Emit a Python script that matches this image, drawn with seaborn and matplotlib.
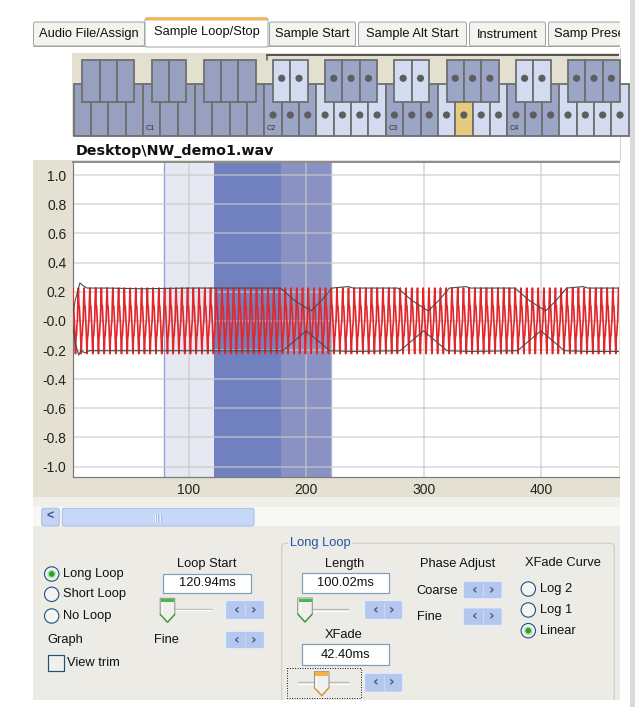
import numpy as np
import pandas as pd
import matplotlib
matplotlib.use("Agg")
import matplotlib.pyplot as plt
import seaborn as sns
from matplotlib.patches import Rectangle, Circle, FancyBboxPatch, Polygon

# ---------------- data ----------------
x_ticks = [100, 200, 300, 400]
y_ticks = [1.0, 0.8, 0.6, 0.4, 0.2, 0.0, -0.2, -0.4, -0.6, -0.8, -1.0]
y_tick_labels = ["1.0", "0.8", "0.6", "0.4", "0.2", "-0.0", "-0.2", "-0.4", "-0.6", "-0.8", "-1.0"]

loop_start_ms = 120.94
loop_length_ms = 100.02
xfade_ms = 42.40

# one cycle of the red waveform, repeated along the time axis
cycle_ms = 4.9
cycle_shape = [0.0, 0.14, 0.225, 0.11, 0.10, 0.03, -0.04, -0.14, -0.225, -0.11, -0.10, -0.03]
wave_end_ms = 467.0

# grey envelope lines
env_top_x = [0.3, 3, 7, 10, 13, 30, 60, 100, 150, 178, 190, 204, 213, 222, 236, 240,
             278, 290, 304, 313, 322, 336, 340, 378, 390, 404, 413, 422, 436, 440, 466.6]
env_top_y = [0.02, 0.14, 0.26, 0.24, 0.225, 0.225, 0.22, 0.225, 0.225, 0.225, 0.14, 0.068, 0.14, 0.225, 0.235, 0.225,
             0.225, 0.14, 0.068, 0.14, 0.225, 0.235, 0.225, 0.225, 0.14, 0.068, 0.14, 0.225, 0.235, 0.225, 0.225]
env_bot_x = [0.3, 3, 6, 8, 11, 15, 40, 100, 150, 180, 200, 220, 240, 280, 300, 320, 340, 380, 400, 420, 440, 466.6]
env_bot_y = [0.0, -0.15, -0.235, -0.2, -0.22, -0.205, -0.205, -0.205, -0.205, -0.205, -0.068, -0.205, -0.21,
             -0.205, -0.068, -0.205, -0.21, -0.205, -0.068, -0.205, -0.21, -0.21]

tab_labels = ["Audio File/Assign", "Sample Loop/Stop", "Sample Start", "Sample Alt Start", "Instrument", "Samp Preset"]
file_title = "Desktop\\NW_demo1.wav"

n_white_keys = 32
range_start_key = 11
selected_key = 22
c_labels = {4: "C1", 11: "C2", 18: "C3", 25: "C4"}

loop_modes = ["Long Loop", "Short Loop", "No Loop"]
xfade_curves = ["Log 2", "Log 1", "Linear"]

# ---------------- style ----------------
sns.set_theme(style="white")
plt.rcParams['font.family'] = ['Liberation Sans', 'DejaVu Sans']
FS = 9.3
TXT = '#111111'

fig = plt.figure(figsize=(6.35, 7.07), dpi=100)
fig.patch.set_facecolor('white')
bg = fig.add_axes([0, 0, 1, 1], zorder=0)
bg.set_xlim(0, 635)
bg.set_ylim(707, 0)
bg.axis('off')

PX = 0.72  # points per pixel


def rect(x0, y0, x1, y1, fc, ec='none', lw=0, z=1, **kw):
    bg.add_patch(Rectangle((x0, y0), x1 - x0, y1 - y0, fc=fc, ec=ec, lw=lw * PX, zorder=z, **kw))


def txt(x, y, s, ha='left', size=FS, color=TXT, **kw):
    return bg.text(x, y, s, ha=ha, va='center', fontsize=size, color=color, **kw)


# ---------------- window frame ----------------
rect(630, 0, 635, 707, '#DADADA', z=0.5)

# tabs
tab_pos = [(33, 145), (145, 268), (269, 356), (358, 467), (469, 546), (548, 622)]
for i, ((a, b), lab) in enumerate(zip(tab_pos, tab_labels)):
    if i == 1:
        continue
    bg.add_patch(FancyBboxPatch((a + 0.5, 22), b - a - 1, 24, boxstyle="round,pad=0,rounding_size=2",
                                fc='#F4F3EE', ec='#9CA6AA', lw=1 * PX, zorder=2))
    t = txt((a + b) / 2 if i != 5 else a + 6, 34.5, lab, ha='center' if i != 5 else 'left', zorder=3)
    if i == 5:
        t.set_clip_path(Rectangle((a, 20), 620 - a, 30, transform=bg.transData))
rect(620, 18, 630, 48, 'white', z=4)
bg.plot([33, 620], [45.5, 45.5], color='#9CA6AA', lw=1 * PX, zorder=2.5)
a, b = tab_pos[1]
bg.add_patch(FancyBboxPatch((a, 18), b - a, 29, boxstyle="round,pad=0,rounding_size=2",
                            fc='white', ec='#9CA6AA', lw=1 * PX, zorder=3))
bg.add_patch(FancyBboxPatch((a + 0.5, 17.5), b - a - 1, 3, boxstyle="round,pad=0,rounding_size=1.5",
                            fc='#F6B552', ec='none', zorder=3.2))
txt((a + b) / 2, 32, tab_labels[1], ha='center', zorder=4)
bg.plot([620, 620], [46, 160], color='#CFCFCF', lw=1 * PX, zorder=2)

# ---------------- keyboard ----------------
KX0, KW = 73.5, 17.35
KL, KR = 72, 619
rect(KL, 53, KR, 136, '#E4E0CF', z=2)
kb_clip = Rectangle((KL, 50), KR - KL, 90, transform=bg.transData)
OUT = '#97A1BF'
MED = '#9BA5C6'
LIGHT = '#D2DBF0'
YEL = '#E6CB7E'
EDGE = '#6E6E6E'
white_names = ['F', 'G', 'A', 'B', 'C', 'D', 'E']
for k in range(n_white_keys):
    x = KX0 + k * KW
    xa = max(x, KL)
    name = white_names[k % 7]
    if k < range_start_key:
        col = OUT
    elif k == selected_key:
        col = YEL
    elif name in ('C', 'D', 'E'):
        col = MED
    else:
        col = LIGHT
    p = Rectangle((xa, 84), x + KW - xa, 52, fc=col, ec=EDGE, lw=1.8 * PX, zorder=3)
    p.set_clip_path(kb_clip)
    bg.add_patch(p)
    if k >= range_start_key:
        c = Circle((x + KW / 2, 115), 3.6, fc='#5E5E5E', ec='none', zorder=5)
        c.set_clip_path(kb_clip)
        bg.add_patch(c)
    if k in c_labels:
        txt(x + 2.5, 128.5, c_labels[k], size=5.3, color='#333333', zorder=6)
for k in range(1, n_white_keys + 1):
    if (k % 7) not in (1, 2, 3, 5, 6):
        continue
    x = KX0 + (k - 0.5) * KW
    if x > KR:
        continue
    if k <= 10:
        col = OUT
    elif (k % 7) in (5, 6):
        col = LIGHT
    else:
        col = MED
    p = Rectangle((x, 60), KW, 41.7, fc=col, ec=EDGE, lw=1.8 * PX, zorder=4)
    p.set_clip_path(kb_clip)
    bg.add_patch(p)
    if k >= 12:
        c = Circle((x + KW / 2, 78.3), 3.6, fc='#5E5E5E', ec='none', zorder=5)
        c.set_clip_path(kb_clip)
        bg.add_patch(c)
bg.plot([266, 619], [55.3, 55.3], color='#555555', lw=2 * PX, zorder=6, solid_capstyle='butt')
bg.plot([266.5, 266.5], [55, 59.5], color='#555555', lw=1.5 * PX, zorder=6)

txt(76, 151, file_title, size=10.3, weight='bold', color='#111111',
    family=['DejaVu Sans'], zorder=3)

# ---------------- chart widget ----------------
rect(33, 160, 620, 497, '#E4E1D2', z=1)
rect(33, 497, 620, 507, '#F0EFE9', z=1)
rect(33, 507, 620, 526, '#F8F8F5', z=1)
rect(33, 526, 620, 700, '#ECEBE6', z=1)

AX_L, AX_R, AX_T, AX_B = 72.5, 619, 161.5, 477
ax = fig.add_axes([AX_L / 635, 1 - AX_B / 707, (AX_R - AX_L) / 635, (AX_B - AX_T) / 707], zorder=2)
ax.set_facecolor('white')

n_cycles = int(wave_end_ms / cycle_ms) + 1
n_per = len(cycle_shape)
t = np.arange(n_cycles * n_per) * (cycle_ms / n_per)
w = np.tile(np.array(cycle_shape), n_cycles)
wave = pd.DataFrame({'t': t, 'v': w})
wave = wave[wave.t <= wave_end_ms]

xf_start = loop_start_ms - xfade_ms
loop_end = loop_start_ms + loop_length_ms
ax.axvspan(xf_start, loop_start_ms, color='#E6E8F2', lw=0, zorder=0.6)
ax.axvspan(loop_start_ms, loop_end - xfade_ms, color='#7181C0', lw=0, zorder=0.6)
ax.axvspan(loop_end - xfade_ms, loop_end, color='#8A92C3', lw=0, zorder=0.6)
ax.axvline(xf_start, color='#8F9FD6', lw=1.3 * PX, zorder=0.7)
ax.axvline(loop_end, color='#A8B2DC', lw=1.3 * PX, zorder=0.7)

sns.lineplot(data=wave, x='t', y='v', ax=ax, color='#E3262A', lw=1.7 * PX,
             estimator=None, sort=False, zorder=3)
sns.lineplot(x=env_top_x, y=env_top_y, ax=ax, color='#4A4A4A', lw=1.1 * PX,
             estimator=None, sort=False, zorder=4)
sns.lineplot(x=env_bot_x, y=env_bot_y, ax=ax, color='#4A4A4A', lw=1.1 * PX,
             estimator=None, sort=False, zorder=4)

ax.set_xlim(0.7, 466.6)
ax.set_ylim(-1.071, 1.093)
ax.set_xticks(x_ticks)
ax.set_xticklabels([str(v) for v in x_ticks])
ax.set_yticks(y_ticks)
ax.set_yticklabels(y_tick_labels)
ax.set_xlabel('')
ax.set_ylabel('')
ax.set_axisbelow('line')
ax.grid(True, color='#C9C9C9', lw=1.5 * PX, alpha=0.75)
ax.tick_params(axis='both', length=0, labelsize=10, colors='#222222')
ax.tick_params(axis='x', pad=4.5)
ax.tick_params(axis='y', pad=4.5)
for s in ['left', 'bottom']:
    ax.spines[s].set_color('#7A7A7A')
    ax.spines[s].set_linewidth(1.2 * PX)
ax.spines['top'].set_color('#8E8E8E')
ax.spines['top'].set_linewidth(2 * PX)
ax.spines['right'].set_visible(False)

# ---------------- scrollbar ----------------
bg.add_patch(FancyBboxPatch((41.7, 508.3), 17.6, 17.7, boxstyle="round,pad=0,rounding_size=2",
                            fc='#C2D3F6', ec='#A9BDE8', lw=1 * PX, zorder=2))
txt(50.5, 516.8, '<', ha='center', size=9, color='#3F5483', weight='bold', zorder=3)
bg.add_patch(FancyBboxPatch((62.3, 508.3), 191.7, 17.7, boxstyle="round,pad=0,rounding_size=2",
                            fc='#C7D7F7', ec='#A9BDE8', lw=1 * PX, zorder=2))
for gx in (154.5, 157, 159.5):
    bg.plot([gx, gx], [513.5, 520.5], color='#EEF3FD', lw=1 * PX, zorder=3)
    bg.plot([gx + 1, gx + 1], [513.5, 520.5], color='#9DB2DC', lw=0.8 * PX, zorder=3)


# ---------------- controls ----------------
def radio(cx, cy, selected=False):
    bg.add_patch(Circle((cx, cy), 7.2, fc='#F4F4F0', ec='#1F4F84', lw=1.1 * PX, zorder=3))
    if selected:
        bg.add_patch(Circle((cx, cy), 4.3, fc='#B5E3AE', ec='none', zorder=4))
        bg.add_patch(Circle((cx, cy), 2.8, fc='#2C9F2C', ec='none', zorder=5))


def spin(x0, y0, x1, y1):
    bg.add_patch(FancyBboxPatch((x0 + 0.5, y0 + 0.5), x1 - x0 - 1, y1 - y0 - 1,
                                boxstyle="round,pad=0,rounding_size=2",
                                fc='#B3C7EF', ec='#E6EDFA', lw=1.2 * PX, zorder=3))
    xm = (x0 + x1) / 2
    bg.plot([xm, xm], [y0 + 3, y1 - 3], color='#CCD9F4', lw=1 * PX, zorder=4)
    cy = (y0 + y1) / 2
    txt(x0 + (x1 - x0) * 0.29, cy - 0.5, '‹', ha='center', size=10, color='#4B5B82', weight='bold',
        family=['DejaVu Sans'], zorder=5)
    txt(x0 + (x1 - x0) * 0.71, cy - 0.5, '›', ha='center', size=10, color='#4B5B82', weight='bold',
        family=['DejaVu Sans'], zorder=5)


def textbox(x0, y0, x1, y1, s):
    rect(x0, y0, x1, y1, 'white', ec='#7F9DB9', lw=1.2, z=3)
    txt((x0 + x1) / 2, (y0 + y1) / 2, s, ha='center', zorder=4)


def slider(x0, x1, y, cx, top, ctop, cedge):
    bg.plot([x0, x1], [y - 0.7, y - 0.7], color='#B9B9B4', lw=1.3 * PX, zorder=3)
    bg.plot([x0, x1], [y + 0.8, y + 0.8], color='#FFFFFF', lw=1.3 * PX, zorder=3)
    hw = 7.3
    pts = [(cx - hw, top), (cx + hw, top), (cx + hw, top + 16), (cx, top + 24), (cx - hw, top + 16)]
    bg.add_patch(Polygon(pts, closed=True, fc='#F1F1EC', ec='#8F8F8F', lw=1 * PX, zorder=4))
    bg.add_patch(Rectangle((cx - hw + 0.8, top + 0.6), 2 * hw - 1.6, 3.2, fc=ctop, ec='none', zorder=5))
    bg.plot([cx - hw, cx, cx + hw], [top + 16, top + 24, top + 16], color=cedge, lw=1.4 * PX, zorder=5)
    bg.plot([cx - hw + 2, cx - hw + 2], [top + 4, top + 16], color='#FFFFFF', lw=1 * PX, zorder=5)


# left column
for i, (lab, cy) in enumerate(zip(loop_modes, [574, 594.3, 616])):
    radio(51.7, cy, selected=(i == 0))
    txt(63.3, cy, lab, zorder=4)
txt(47.3, 640, 'Graph', zorder=4)
rect(47.5, 655, 64, 671, '#F1F1EC', ec='#1C5180', lw=1.2, z=3)
txt(66.7, 663.3, 'View trim', zorder=4)

txt(206.5, 564, 'Loop Start', ha='center', zorder=4)
textbox(163.3, 574, 250.7, 592.7, f'{loop_start_ms:.2f}ms')
slider(163.3, 211.7, 609.5, 167.5, 598.3, '#43BE45', '#3F9E3F')
spin(225, 600, 265, 620)
txt(154, 640, 'Fine', zorder=4)
spin(225, 630.7, 265, 649.3)

# group box
gb = FancyBboxPatch((281.7, 543.3), 332.6, 200, boxstyle="round,pad=0,rounding_size=4",
                    fc='none', ec='#D0D0BF', lw=1.2 * PX, zorder=2)
bg.add_patch(gb)
gb.set_clip_path(Rectangle((270, 530), 360, 170, transform=bg.transData))
txt(290, 543.3, 'Long Loop', color='#2255A4', zorder=4,
    bbox=dict(fc='#ECEBE6', ec='none', pad=1.2))

txt(344.2, 563.5, 'Length', ha='center', zorder=4)
textbox(301.7, 573.3, 389, 592.7, f'{loop_length_ms:.2f}ms')
slider(298.3, 348.3, 610, 305, 598, '#43BE45', '#3F9E3F')
spin(364, 600, 403.3, 620)

txt(343.3, 635, 'XFade', ha='center', zorder=4)
textbox(301.7, 644, 389, 665, f'{xfade_ms:.2f}ms')
rect(287.3, 668.3, 361, 698.3, 'none', ec='#222222', lw=1, z=4, ls=(0, (1, 1.5)))
slider(298.3, 348.3, 682.7, 321.7, 671.7, '#F5B041', '#D59A3A')
spin(364, 672.7, 403.3, 692.7)

txt(457.7, 563.5, 'Phase Adjust', ha='center', zorder=4)
txt(416.7, 590.7, 'Coarse', zorder=4)
spin(462.7, 580.7, 502.7, 599.3)
txt(416.7, 617.3, 'Fine', zorder=4)
spin(462.7, 607.3, 502.7, 626)

txt(562.8, 563.5, 'XFade Curve', ha='center', zorder=4)
for i, (lab, cy) in enumerate(zip(xfade_curves, [589, 610, 630.7])):
    radio(528.3, cy, selected=(i == 2))
    txt(540, cy, lab, zorder=4)

fig.savefig('out.png', dpi=100, facecolor='white')
